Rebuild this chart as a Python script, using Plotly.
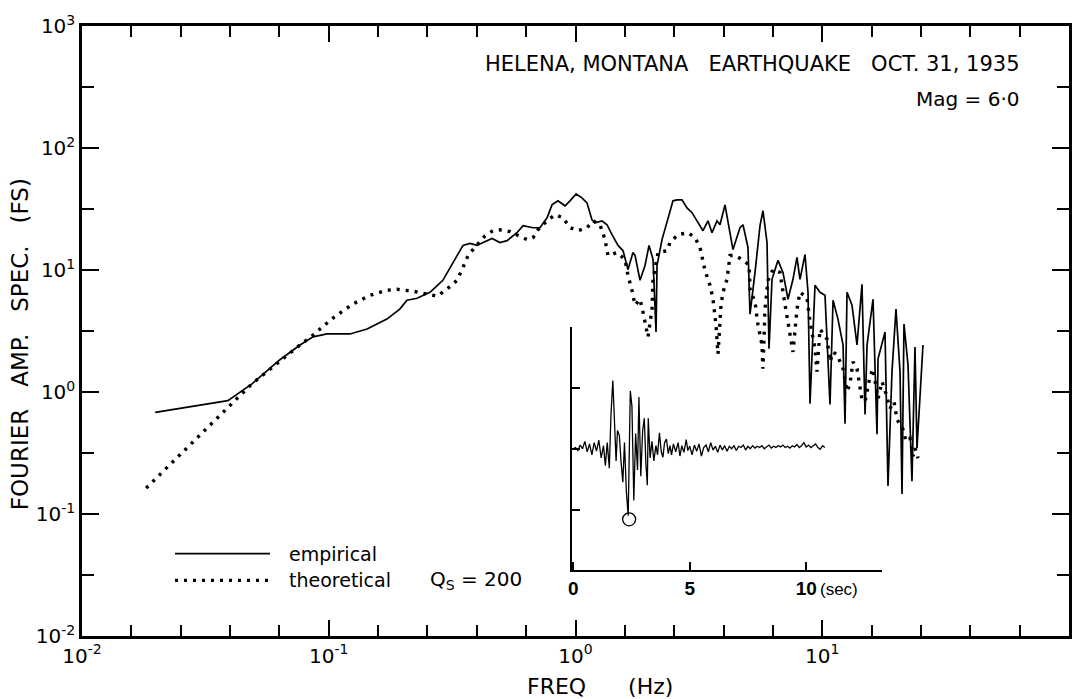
import plotly.graph_objects as go

# empirical spectrum (Hz, FS)
freq_emp = [0.0198, 0.039, 0.049, 0.0634, 0.0765, 0.0864, 0.0984, 0.122, 0.143, 0.172,
            0.194, 0.2075, 0.228, 0.257, 0.265, 0.290, 0.319, 0.350, 0.374, 0.399,
            0.422, 0.459, 0.494, 0.528, 0.579, 0.613, 0.673, 0.718, 0.767, 0.803,
            0.849, 0.907, 0.950, 1.005, 1.062, 1.113, 1.166, 1.20, 1.28, 1.342,
            1.406, 1.487, 1.558, 1.632, 1.710, 1.743, 1.826, 1.913, 1.986, 2.062,
            2.120, 2.140, 2.242, 2.349, 2.484, 2.579, 2.702, 2.831, 2.966, 3.107,
            3.286, 3.443, 3.574, 3.745, 3.851, 4.035, 4.347, 4.642, 4.773, 5.001,
            5.096, 5.340, 5.594, 5.753, 5.972, 6.085, 6.257, 6.617, 6.932, 7.263,
            7.610, 7.899, 8.124, 8.514, 8.756, 8.921, 9.346, 9.793, 10.26, 10.75,
            11.06, 11.58, 12.14, 12.37, 12.60, 13.20, 13.83, 14.49, 14.91, 15.19,
            16.06, 16.67, 16.83, 17.96, 18.47, 19.17, 19.90, 20.66, 21.05, 21.44,
            22.26, 23.10, 23.76, 24.21, 24.90, 25.60]
amp_emp = [0.68, 0.85, 1.17, 1.84, 2.43, 2.83, 2.99, 2.99, 3.28, 3.96,
           4.78, 5.66, 5.87, 6.57, 6.95, 8.23, 11.5, 15.9, 16.5, 15.9,
           16.8, 18.1, 16.8, 17.4, 20.2, 23.1, 22.2, 22.2, 26.8, 34.2,
           36.9, 33.6, 36.9, 42.0, 39.0, 35.5, 25.8, 24.4, 25.3, 23.5,
           19.5, 15.9, 14.4, 10.1, 13.9, 13.2, 8.23, 10.9, 15.9, 12.2,
           3.10, 10.9, 17.75, 25.3, 36.9, 37.6, 37.6, 32.3, 29.5, 25.3,
           21.0, 25.3, 20.2, 25.3, 23.5, 34.2, 14.7, 22.2, 23.5, 15.3,
           4.35, 9.56, 23.1, 30.6, 16.8, 2.26, 8.39, 12.0, 9.56, 5.76,
           8.39, 12.7, 8.39, 13.4, 6.57, 0.80, 7.49, 6.57, 6.21, 0.79,
           5.66, 3.96, 2.43, 0.55, 6.57, 5.15, 2.43, 7.63, 0.655, 2.43,
           5.76, 0.45, 1.87, 3.10, 0.17, 1.47, 4.78, 1.47, 0.146, 3.61,
           1.67, 0.186, 2.34, 0.346, 0.835, 2.43]

# theoretical spectrum, Qs = 200
freq_theo = [0.0182, 0.0489, 0.0765, 0.0864, 0.104, 0.125, 0.147, 0.172, 0.189, 0.2195,
             0.2525, 0.275, 0.301, 0.331, 0.350, 0.367, 0.381, 0.430, 0.463, 0.504,
             0.543, 0.579, 0.636, 0.673, 0.705, 0.767, 0.826, 0.890, 0.950, 1.024,
             1.113, 1.177, 1.257, 1.317, 1.354, 1.473, 1.587, 1.632, 1.694, 1.743,
             1.826, 1.877, 1.967, 2.042, 2.062, 2.160, 2.349, 2.415, 2.603, 2.857,
             3.05, 3.196, 3.348, 3.508, 3.608, 3.71, 3.78, 3.888, 3.961, 4.111,
             4.228, 4.429, 4.73, 5.05, 5.10, 5.34, 5.49, 5.70, 5.75, 5.86,
             6.03, 6.32, 6.74, 7.06, 7.40, 7.61, 7.90, 8.12, 8.67, 8.92,
             9.35, 9.52, 9.79, 10.45, 10.75, 11.06, 11.48, 12.14, 12.6, 12.96,
             13.32, 13.83, 14.49, 14.91, 15.61, 16.06, 16.83, 17.47, 18.13, 18.82,
             19.53, 20.09, 21.25, 21.85, 22.68, 23.32, 23.76, 24.44]
amp_theo = [0.163, 1.17, 2.43, 2.93, 4.04, 5.25, 6.21, 6.82, 6.95, 6.70,
            6.33, 6.10, 6.95, 8.23, 10.5, 13.15, 14.4, 19.1, 21.0, 21.4,
            20.6, 19.5, 17.75, 18.4, 21.4, 25.3, 28.4, 26.8, 22.2, 21.0,
            22.2, 25.3, 23.5, 17.75, 13.15, 13.9, 12.2, 9.04, 6.82, 5.15,
            5.76, 4.52, 2.83, 4.78, 8.39, 13.9, 14.4, 16.8, 19.5, 20.2,
            18.4, 15.3, 9.93, 7.49, 5.76, 3.54, 2.05, 5.15, 6.57, 8.39,
            13.15, 13.15, 12.2, 11.0, 6.95, 5.45, 3.54, 2.43, 1.55, 4.78,
            8.23, 10.1, 9.56, 5.25, 3.10, 2.13, 4.78, 6.57, 5.98, 3.74,
            2.26, 1.47, 3.28, 2.72, 1.77, 2.13, 2.02, 1.55, 1.01, 1.17,
            1.77, 1.55, 0.867, 0.835, 1.335, 1.55, 0.884, 1.215, 0.97, 0.733,
            0.835, 0.596, 0.494, 0.395, 0.417, 0.298, 0.346, 0.287]

# inset accelerogram (sec, relative amplitude)
t_sec = [0.0, 0.1, 0.2, 0.3, 0.4, 0.5, 0.6, 0.7, 0.8, 0.9,
         1.0, 1.1, 1.2, 1.3, 1.38, 1.46, 1.55, 1.62, 1.7, 1.76,
         1.84, 1.9, 1.98, 2.05, 2.13, 2.2, 2.28, 2.36, 2.45, 2.52,
         2.6, 2.68, 2.76, 2.82, 2.9, 2.98, 3.05, 3.12, 3.18, 3.22,
         3.3, 3.38, 3.46, 3.55, 3.62, 3.7, 3.78, 3.85, 3.92, 4.0,
         4.08, 4.15, 4.22, 4.3, 4.4, 4.5, 4.58, 4.66, 4.75, 4.85,
         4.92, 5.0, 5.1, 5.2, 5.3, 5.4, 5.5, 5.6, 5.7, 5.8,
         5.9, 6.0, 6.1, 6.2, 6.3, 6.4, 6.5, 6.6, 6.7, 6.8,
         6.9, 7.0, 7.1, 7.2, 7.3, 7.4, 7.5, 7.6, 7.7, 7.8,
         7.9, 8.0, 8.1, 8.2, 8.3, 8.4, 8.5, 8.6, 8.7, 8.8,
         8.9, 9.0, 9.1, 9.2, 9.3, 9.4, 9.5, 9.6, 9.7, 9.8,
         9.9, 10.0, 10.1, 10.2, 10.3, 10.4, 10.5, 10.6, 10.7, 10.8]
accel = [0.0, 0.02, -0.03, 0.06, 0.0, 0.12, -0.05, 0.08, -0.1, 0.1,
         -0.04, 0.14, -0.15, 0.05, -0.28, 0.1, -0.32, 0.55, 1.12, 0.4,
         -0.2, 0.3, 0.22, -0.2, -0.55, 0.1, -0.7, -1.1, 0.95, 0.7,
         -0.85, 0.25, -0.35, 0.85, -0.45, 0.3, 0.5, -0.25, -0.6, 0.5,
         -0.15, 0.12, -0.2, 0.05, -0.1, 0.26, -0.05, -0.14, 0.1, 0.16,
         -0.08, 0.05, -0.1, 0.08, -0.05, 0.1, -0.12, 0.05, -0.06, 0.15,
         -0.03, 0.04, -0.1, 0.06, -0.04, 0.08, -0.12, 0.02, 0.06, -0.05,
         0.1, -0.02, 0.04, -0.06, 0.06, -0.02, 0.05, -0.04, 0.04, 0.0,
         0.05, -0.03, 0.04, 0.02, 0.06, -0.02, 0.04, 0.0, 0.05, 0.01,
         0.04, 0.02, 0.05, 0.0, 0.03, 0.06, 0.01, 0.04, 0.02, 0.05,
         0.03, 0.06, 0.02, 0.04, 0.01, 0.05, 0.03, 0.07, 0.02, 0.05,
         0.1, 0.03, 0.06, 0.02, 0.05, 0.08, 0.02, -0.01, 0.05, 0.02]
peak_t = [2.4]
peak_v = [-1.16]

x_ticks = [0.01, 0.1, 1, 10, 100]
x_labels = ["10<sup>-2</sup>", "10<sup>-1</sup>", "10<sup>0</sup>", "10<sup>1</sup>", "10<sup>2</sup>"]
y_ticks = [0.01, 0.1, 1, 10, 100, 1000]
y_labels = ["10<sup>-2</sup>", "10<sup>-1</sup>", "10<sup>0</sup>", "10<sup>1</sup>", "10<sup>2</sup>", "10<sup>3</sup>"]
inset_ticks = [0, 5, 10]
inset_labels = ["<b>0</b>", "<b>5</b>", "<b>10</b>"]

assert len(freq_emp) == len(amp_emp)
assert len(freq_theo) == len(amp_theo)
assert len(t_sec) == len(accel)

FONT = "DejaVu Sans"
x_minor = [10 ** (k / 5) for k in range(-10, 11) if k % 5]
y_minor = [10 ** (k / 2) for k in range(-4, 7) if k % 2]

fig = go.Figure()
fig.add_trace(go.Scatter(x=freq_emp, y=amp_emp, mode="lines",
                         line=dict(color="black", width=1.7)))
fig.add_trace(go.Scatter(x=freq_theo, y=amp_theo, mode="lines",
                         line=dict(color="black", width=3.4, dash="3px,6px")))
fig.add_trace(go.Scatter(x=t_sec, y=accel, mode="lines", xaxis="x2", yaxis="y2",
                         line=dict(color="black", width=1.3)))
fig.add_trace(go.Scatter(x=peak_t, y=peak_v, mode="markers", xaxis="x2", yaxis="y2",
                         marker=dict(symbol="circle-open", size=13, color="black",
                                     line=dict(width=1.3))))

main_axis = dict(type="log", showline=True, linewidth=2.5, linecolor="black",
                 mirror="ticks", ticks="inside", tickwidth=2, tickcolor="black",
                 showgrid=False, zeroline=False,
                 tickfont=dict(family=FONT, size=20, color="black"))

fig.update_layout(
    width=1084, height=699,
    margin=dict(l=82, r=15, t=22, b=63),
    paper_bgcolor="white", plot_bgcolor="rgba(0,0,0,0)",
    showlegend=False,
    font=dict(family=FONT, color="black"),
    xaxis=dict(main_axis, range=[-2, 2], tickvals=x_ticks, ticktext=x_labels, ticklen=16,
               minor=dict(tickvals=x_minor, ticks="inside", ticklen=11, tickwidth=2,
                          tickcolor="black")),
    yaxis=dict(main_axis, range=[-2, 3], tickvals=y_ticks, ticktext=y_labels, ticklen=17,
               minor=dict(tickvals=y_minor, ticks="inside", ticklen=12, tickwidth=2,
                          tickcolor="black")),
    xaxis2=dict(domain=[0.4965, 0.8105], anchor="y2", range=[-0.05, 13.25],
                tickvals=inset_ticks, ticktext=inset_labels, ticks="inside", ticklen=9,
                tickwidth=1.5, tickcolor="black", showline=True, linewidth=1.5,
                linecolor="black", showgrid=False, zeroline=False,
                tickfont=dict(family="Liberation Sans", size=19, color="black")),
    yaxis2=dict(domain=[0.1075, 0.5065], anchor="x2", range=[-2, 2],
                tickvals=[-1, 0, 1, 2], showticklabels=False, ticks="inside", ticklen=8,
                tickwidth=1.5, tickcolor="black", showline=True, linewidth=1.5,
                linecolor="black", showgrid=False, zeroline=False),
)

nb = "\u00a0"
annotations = [
    dict(text=f"HELENA,{nb}MONTANA{nb*3}EARTHQUAKE{nb*3}OCT.{nb}31,{nb}1935",
         x=0.952, y=0.938, xanchor="right", yanchor="middle", font=dict(size=21)),
    dict(text="Mag = 6\u00b70", x=0.952, y=0.881, xanchor="right", yanchor="middle",
         font=dict(size=20)),
    dict(text=f"FOURIER{nb*3}AMP.{nb*3}SPEC.{nb*3}(FS)", x=-0.062, y=0.478, textangle=-90,
         xanchor="center", yanchor="middle", font=dict(size=23)),
    dict(text=f"FREQ{nb*6}(Hz)", x=0.525, y=-0.083, xanchor="center", yanchor="middle",
         font=dict(size=22)),
    dict(text="empirical", x=0.2077, y=0.1352, xanchor="left", yanchor="middle",
         font=dict(size=19)),
    dict(text="theoretical", x=0.2077, y=0.0912, xanchor="left", yanchor="middle",
         font=dict(size=19)),
    dict(text="Q<sub>S</sub> = 200", x=0.3506, y=0.0912, xanchor="left", yanchor="middle",
         font=dict(size=20)),
]
for a in annotations:
    a.update(xref="paper", yref="paper", showarrow=False)
annotations.append(dict(text="(sec)", xref="x2", yref="paper", x=10.5, y=0.077,
                        xanchor="left", yanchor="middle", showarrow=False,
                        font=dict(family="Liberation Sans", size=17)))
fig.update_layout(annotations=annotations)

# legend keys
fig.add_shape(type="line", xref="paper", yref="paper", x0=0.0942, x1=0.1905,
              y0=0.1352, y1=0.1352, line=dict(color="black", width=1.7))
fig.add_shape(type="line", xref="paper", yref="paper", x0=0.0942, x1=0.1925,
              y0=0.0912, y1=0.0912, line=dict(color="black", width=3.4, dash="3px,6px"))

fig.write_html("out.html", config={"displayModeBar": False},
               post_script="document.body.style.margin='0';")
